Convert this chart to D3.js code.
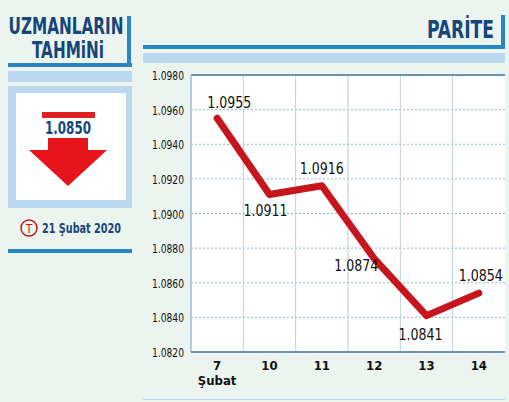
<!DOCTYPE html><html><head><meta charset="utf-8"><script src="https://cdn.jsdelivr.net/npm/d3@7"></script>
<style>body{margin:0;background:#ecf4ef}text{font-family:"DejaVu Sans Condensed","Liberation Sans Narrow",sans-serif;font-stretch:condensed}</style></head><body>
<script>
const categories=["7","10","11","12","13","14"];
const values=[1.0955,1.0911,1.0916,1.0874,1.0841,1.0854];
const labels=["1.0955","1.0911","1.0916","1.0874","1.0841","1.0854"];
const yTicks=[1.0820,1.0840,1.0860,1.0880,1.0900,1.0920,1.0940,1.0960,1.0980];
const forecast="1.0850", dateText="21 Şubat 2020";
const W=509,H=402;
const svg=d3.select("body").append("svg").attr("width",W).attr("height",H);
svg.append("rect").attr("width",W).attr("height",H).attr("fill","#ecf4ef");
const navy="#14467a", blue="#2a86c0", light="#bcd8ee";
function fit(t,len){return t.attr("textLength",len).attr("lengthAdjust","spacingAndGlyphs");}
fit(svg.append("text").attr("x",66).attr("y",34).attr("text-anchor","middle").attr("font-size",23).attr("font-weight","bold").attr("fill",navy).text("UZMANLARIN"),115);
fit(svg.append("text").attr("x",68).attr("y",58).attr("text-anchor","middle").attr("font-size",23).attr("font-weight","bold").attr("fill",navy).text("TAHMiNi"),72);
svg.append("rect").attr("x",8).attr("y",63).attr("width",124).attr("height",4).attr("fill",blue);
svg.append("rect").attr("x",127).attr("y",16).attr("width",4).attr("height",51).attr("fill",blue);
svg.append("rect").attr("x",8).attr("y",71).attr("width",124).attr("height",11).attr("fill",light);
svg.append("rect").attr("x",8).attr("y",86).attr("width",124).attr("height",122).attr("fill",light);
svg.append("rect").attr("x",16).attr("y",93).attr("width",110).attr("height",107).attr("fill","#fff");
svg.append("rect").attr("x",42).attr("y",112).attr("width",53).attr("height",6).attr("fill","#e02020");
fit(svg.append("text").attr("x",68).attr("y",134).attr("text-anchor","middle").attr("font-size",17).attr("font-weight","bold").attr("fill",navy).text(forecast),46);
svg.append("path").attr("d","M48,138 H88 V150 H107 L68,186 L29,150 H48 Z").attr("fill","#e8141c");
svg.append("circle").attr("cx",29).attr("cy",228).attr("r",8).attr("fill","none").attr("stroke","#c01818").attr("stroke-width",1.5);
svg.append("text").attr("x",29).attr("y",233).attr("text-anchor","middle").attr("font-size",12).attr("fill","#c01818").text("T");
fit(svg.append("text").attr("x",42).attr("y",233).attr("font-size",14).attr("font-weight","bold").attr("fill",navy).text(dateText),79);
svg.append("rect").attr("x",8).attr("y",249).attr("width",124).attr("height",4).attr("fill",blue);
fit(svg.append("text").attr("x",494).attr("y",38).attr("text-anchor","end").attr("font-size",24).attr("font-weight","bold").attr("fill",navy).text("PARİTE"),67);
svg.append("rect").attr("x",143).attr("y",45).attr("width",362).attr("height",4).attr("fill",blue);
svg.append("rect").attr("x",501).attr("y",15).attr("width",4).attr("height",34).attr("fill",blue);
svg.append("rect").attr("x",143).attr("y",53).attr("width",362).attr("height",10).attr("fill",light);
svg.append("rect").attr("x",143).attr("y",399).attr("width",362).attr("height",1).attr("fill",light);
const x=d3.scaleBand().domain(categories).range([191,505]);
const y=d3.scaleLinear().domain([1.082,1.098]).range([352,75]);
svg.append("rect").attr("x",191).attr("y",75).attr("width",314).attr("height",277).attr("fill","#fff");
svg.selectAll(".hg").data(yTicks.slice(1,-1)).join("line").attr("x1",191).attr("x2",505).attr("y1",d=>y(d)).attr("y2",d=>y(d)).attr("stroke","#8fb4d6").attr("stroke-dasharray","2,2");
svg.selectAll(".vg").data(categories.slice(1)).join("line").attr("x1",d=>x(d)).attr("x2",d=>x(d)).attr("y1",75).attr("y2",352).attr("stroke","#b5cfe6");
svg.append("line").attr("x1",191).attr("x2",505).attr("y1",75).attr("y2",75).attr("stroke","#6c94b8").attr("stroke-width",2);
svg.append("line").attr("x1",191).attr("x2",191).attr("y1",75).attr("y2",352).attr("stroke","#9bbbd8").attr("stroke-width",1.5);
svg.append("line").attr("x1",191).attr("x2",505).attr("y1",352).attr("y2",352).attr("stroke","#6c94b8").attr("stroke-width",2);
svg.selectAll(".yt").data(yTicks).join("text").attr("x",184).attr("y",d=>y(d)+5).attr("text-anchor","end").attr("font-size",13).attr("textLength",32).attr("lengthAdjust","spacingAndGlyphs").attr("fill","#111").text(d=>d.toFixed(4));
svg.selectAll(".xt").data(categories).join("text").attr("x",d=>x(d)+x.bandwidth()/2).attr("y",370).attr("text-anchor","middle").attr("font-size",13).attr("font-weight","bold").attr("fill","#111").text(d=>d);
svg.append("text").attr("x",x("7")+x.bandwidth()/2).attr("y",385).attr("text-anchor","middle").attr("font-size",13).attr("font-weight","bold").attr("fill","#111").text("Şubat");
const line=d3.line().x((d,i)=>x(categories[i])+x.bandwidth()/2).y(d=>y(d));
svg.append("path").attr("d",line(values)).attr("fill","none").attr("stroke","#c8141c").attr("stroke-width",7).attr("stroke-linecap","round").attr("stroke-linejoin","round");
const off=[[12,-10],[-4,22],[0,-12],[-18,12],[-6,24],[2,-12]];
svg.selectAll(".lb").data(values).join("text").attr("x",(d,i)=>x(categories[i])+x.bandwidth()/2+off[i][0]).attr("y",(d,i)=>y(d)+off[i][1]).attr("text-anchor","middle").attr("font-size",16).attr("textLength",44).attr("lengthAdjust","spacingAndGlyphs").attr("fill","#111").text((d,i)=>labels[i]);
</script></body></html>
